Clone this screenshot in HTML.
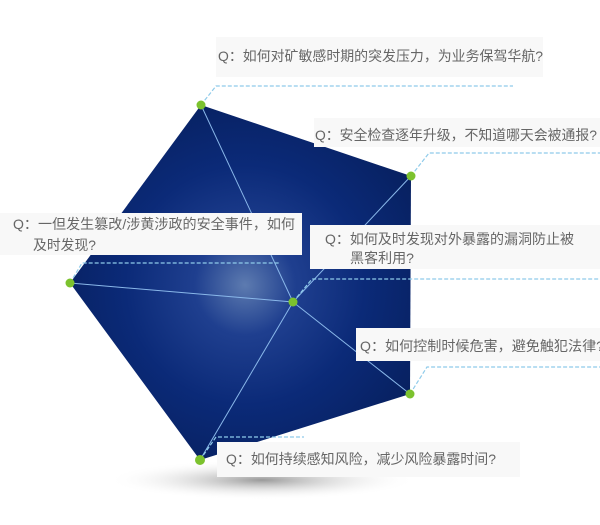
<!DOCTYPE html>
<html><head><meta charset="utf-8"><style>
body{margin:0;background:#fff;width:600px;height:520px;overflow:hidden}
svg text{font-family:"Liberation Sans","Noto Sans CJK SC",sans-serif;font-size:14px;fill:#666}
</style></head><body>
<svg width="600" height="520" viewBox="0 0 600 520">
<defs>
<radialGradient id="g" cx="245" cy="285" r="200" gradientUnits="userSpaceOnUse">
<stop offset="0" stop-color="#5d7bb0"/><stop offset="0.25" stop-color="#1f3f8f"/><stop offset="0.6" stop-color="#0b2a78"/><stop offset="1" stop-color="#07205f"/>
</radialGradient>
<radialGradient id="s" cx="0.5" cy="0.5" r="0.5"><stop offset="0" stop-color="#999"/><stop offset="1" stop-color="#fff" stop-opacity="0"/></radialGradient>
</defs>
<ellipse cx="262" cy="480" rx="155" ry="20" fill="url(#s)"/>
<polygon points="201,105 411,176 410,394 200,460 70,283" fill="url(#g)"/>
<g stroke="#8ab8ea" stroke-width="1" fill="none">
<line x1="293" y1="302" x2="201" y2="105"/><line x1="293" y1="302" x2="411" y2="176"/>
<line x1="293" y1="302" x2="410" y2="394"/><line x1="293" y1="302" x2="200" y2="460"/>
<line x1="293" y1="302" x2="70" y2="283"/>
</g>
<g stroke="#8fcbea" stroke-width="1.2" stroke-dasharray="4,2" fill="none">
<polyline points="201,105 216,86 513,86"/>
<polyline points="411,176 429,153 600,153"/>
<polyline points="70,283 82,263 279,263"/>
<polyline points="293,302 312,279 600,279"/>
<polyline points="410,394 427,367 600,367"/>
<polyline points="200,460 216,437 304,437"/>
</g>
<g fill="#f8f8f8">
<rect x="216" y="37" width="327" height="40"/>
<rect x="314" y="118" width="286" height="29"/>
<rect x="0" y="213" width="302" height="42"/>
<rect x="310" y="225" width="290" height="44"/>
<rect x="356" y="328" width="244" height="33"/>
<rect x="217" y="442" width="303" height="35"/>
</g>
<g fill="#7cc22e">
<circle cx="201" cy="105" r="4.5"/><circle cx="411" cy="176" r="4.5"/><circle cx="410" cy="394" r="4.5"/>
<circle cx="200" cy="460" r="5"/><circle cx="70" cy="283" r="4.5"/><circle cx="293" cy="302" r="4.5"/>
</g>
<text x="218" y="61" textLength="325" lengthAdjust="spacingAndGlyphs">Q：如何对矿敏感时期的突发压力，为业务保驾华航?</text>
<text x="315" y="140" textLength="282" lengthAdjust="spacingAndGlyphs">Q：安全检查逐年升级，不知道哪天会被通报?</text>
<text x="13" y="229" textLength="282" lengthAdjust="spacingAndGlyphs">Q：一但发生篡改/涉黄涉政的安全事件，如何</text>
<text x="33" y="250" textLength="63" lengthAdjust="spacingAndGlyphs">及时发现?</text>
<text x="325" y="244" textLength="249" lengthAdjust="spacingAndGlyphs">Q：如何及时发现对外暴露的漏洞防止被</text>
<text x="350" y="263" textLength="64" lengthAdjust="spacingAndGlyphs">黑客利用?</text>
<text x="360" y="351" textLength="244" lengthAdjust="spacingAndGlyphs">Q：如何控制时候危害，避免触犯法律?</text>
<text x="226" y="464" textLength="270" lengthAdjust="spacingAndGlyphs">Q：如何持续感知风险，减少风险暴露时间?</text>
</svg>
</body></html>
